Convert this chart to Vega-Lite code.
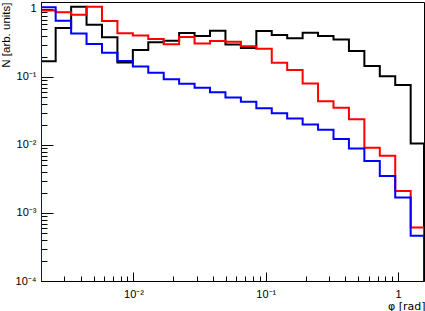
{
  "$schema": "https://vega.github.io/schema/vega-lite/v6.json",
  "autosize": {"type": "none"},
  "padding": {"left": 41, "top": 2, "right": 1, "bottom": 30},
  "width": 383,
  "height": 279,
  "background": "white",
  "view": {"stroke": "black", "strokeWidth": 1},
  "config": {
    "font": "Liberation Sans",
    "axis": {"labelFont": "Liberation Sans", "titleFont": "Liberation Sans", "labelColor": "black", "titleColor": "black", "titleFontWeight": "normal", "grid": false, "domainColor": "black", "tickColor": "black", "tickWidth": 1, "domainWidth": 1}
  },
  "data": {"values": [
    {"s": "A", "i": 0, "x": 0.002, "y": 0.0001},
    {"s": "A", "i": 1, "x": 0.002, "y": 0.170},
    {"s": "A", "i": 2, "x": 0.002582, "y": 0.526},
    {"s": "A", "i": 3, "x": 0.003379, "y": 1.081},
    {"s": "A", "i": 4, "x": 0.004419, "y": 0.588},
    {"s": "A", "i": 5, "x": 0.005781, "y": 0.384},
    {"s": "A", "i": 6, "x": 0.007562, "y": 0.164},
    {"s": "A", "i": 7, "x": 0.009892, "y": 0.249},
    {"s": "A", "i": 8, "x": 0.01294, "y": 0.324},
    {"s": "A", "i": 9, "x": 0.01693, "y": 0.342},
    {"s": "A", "i": 10, "x": 0.02214, "y": 0.444},
    {"s": "A", "i": 11, "x": 0.02897, "y": 0.401},
    {"s": "A", "i": 12, "x": 0.0379, "y": 0.480},
    {"s": "A", "i": 13, "x": 0.04958, "y": 0.301},
    {"s": "A", "i": 14, "x": 0.06486, "y": 0.267},
    {"s": "A", "i": 15, "x": 0.08486, "y": 0.475},
    {"s": "A", "i": 16, "x": 0.111, "y": 0.415},
    {"s": "A", "i": 17, "x": 0.1452, "y": 0.371},
    {"s": "A", "i": 18, "x": 0.19, "y": 0.448},
    {"s": "A", "i": 19, "x": 0.2485, "y": 0.401},
    {"s": "A", "i": 20, "x": 0.3251, "y": 0.356},
    {"s": "A", "i": 21, "x": 0.4253, "y": 0.241},
    {"s": "A", "i": 22, "x": 0.5564, "y": 0.145},
    {"s": "A", "i": 23, "x": 0.7278, "y": 0.1023},
    {"s": "A", "i": 24, "x": 0.9521, "y": 0.0762},
    {"s": "A", "i": 25, "x": 1.2455, "y": 0.01052},
    {"s": "A", "i": 26, "x": 1.5708, "y": 0.01052},
    {"s": "A", "i": 27, "x": 1.5708, "y": 0.0001},
    {"s": "B", "i": 0, "x": 0.002, "y": 0.0001},
    {"s": "B", "i": 1, "x": 0.002, "y": 0.950},
    {"s": "B", "i": 2, "x": 0.002582, "y": 0.894},
    {"s": "B", "i": 3, "x": 0.003379, "y": 0.824},
    {"s": "B", "i": 4, "x": 0.004419, "y": 1.081},
    {"s": "B", "i": 5, "x": 0.005781, "y": 0.666},
    {"s": "B", "i": 6, "x": 0.007562, "y": 0.439},
    {"s": "B", "i": 7, "x": 0.009892, "y": 0.408},
    {"s": "B", "i": 8, "x": 0.01294, "y": 0.362},
    {"s": "B", "i": 9, "x": 0.01693, "y": 0.303},
    {"s": "B", "i": 10, "x": 0.02214, "y": 0.388},
    {"s": "B", "i": 11, "x": 0.02897, "y": 0.311},
    {"s": "B", "i": 12, "x": 0.0379, "y": 0.338},
    {"s": "B", "i": 13, "x": 0.04958, "y": 0.331},
    {"s": "B", "i": 14, "x": 0.06486, "y": 0.283},
    {"s": "B", "i": 15, "x": 0.08486, "y": 0.261},
    {"s": "B", "i": 16, "x": 0.111, "y": 0.162},
    {"s": "B", "i": 17, "x": 0.1452, "y": 0.1268},
    {"s": "B", "i": 18, "x": 0.19, "y": 0.0802},
    {"s": "B", "i": 19, "x": 0.2485, "y": 0.0439},
    {"s": "B", "i": 20, "x": 0.3251, "y": 0.0354},
    {"s": "B", "i": 21, "x": 0.4253, "y": 0.0239},
    {"s": "B", "i": 22, "x": 0.5564, "y": 0.00912},
    {"s": "B", "i": 23, "x": 0.7278, "y": 0.00696},
    {"s": "B", "i": 24, "x": 0.9521, "y": 0.00211},
    {"s": "B", "i": 25, "x": 1.2455, "y": 0.000612},
    {"s": "B", "i": 26, "x": 1.5708, "y": 0.000612},
    {"s": "B", "i": 27, "x": 1.5708, "y": 0.0001},
    {"s": "C", "i": 0, "x": 0.002, "y": 0.0001},
    {"s": "C", "i": 1, "x": 0.002, "y": 1.059},
    {"s": "C", "i": 2, "x": 0.002582, "y": 0.673},
    {"s": "C", "i": 3, "x": 0.003379, "y": 0.436},
    {"s": "C", "i": 4, "x": 0.004419, "y": 0.306},
    {"s": "C", "i": 5, "x": 0.005781, "y": 0.228},
    {"s": "C", "i": 6, "x": 0.007562, "y": 0.172},
    {"s": "C", "i": 7, "x": 0.009892, "y": 0.1427},
    {"s": "C", "i": 8, "x": 0.01294, "y": 0.1157},
    {"s": "C", "i": 9, "x": 0.01693, "y": 0.0925},
    {"s": "C", "i": 10, "x": 0.02214, "y": 0.0797},
    {"s": "C", "i": 11, "x": 0.02897, "y": 0.0696},
    {"s": "C", "i": 12, "x": 0.0379, "y": 0.0596},
    {"s": "C", "i": 13, "x": 0.04958, "y": 0.0500},
    {"s": "C", "i": 14, "x": 0.06486, "y": 0.0432},
    {"s": "C", "i": 15, "x": 0.08486, "y": 0.0348},
    {"s": "C", "i": 16, "x": 0.111, "y": 0.0294},
    {"s": "C", "i": 17, "x": 0.1452, "y": 0.0245},
    {"s": "C", "i": 18, "x": 0.19, "y": 0.0201},
    {"s": "C", "i": 19, "x": 0.2485, "y": 0.0168},
    {"s": "C", "i": 20, "x": 0.3251, "y": 0.01225},
    {"s": "C", "i": 21, "x": 0.4253, "y": 0.00889},
    {"s": "C", "i": 22, "x": 0.5564, "y": 0.00582},
    {"s": "C", "i": 23, "x": 0.7278, "y": 0.0035},
    {"s": "C", "i": 24, "x": 0.9521, "y": 0.00169},
    {"s": "C", "i": 25, "x": 1.2455, "y": 0.000464},
    {"s": "C", "i": 26, "x": 1.5708, "y": 0.000464},
    {"s": "C", "i": 27, "x": 1.5708, "y": 0.0001}
  ]},
  "mark": {"type": "line", "interpolate": "step-after", "strokeWidth": 2, "clip": true},
  "encoding": {
    "x": {
      "field": "x", "type": "quantitative",
      "scale": {"type": "log", "domain": [0.002, 1.5708], "nice": false},
      "axis": {
        "values": [0.003, 0.004, 0.005, 0.006, 0.007, 0.008, 0.009, 0.01, 0.02, 0.03, 0.04, 0.05, 0.06, 0.07, 0.08, 0.09, 0.1, 0.2, 0.3, 0.4, 0.5, 0.6, 0.7, 0.8, 0.9, 1],
        "labelExpr": "abs(datum.value - 1) < 1e-9 ? '1' : abs(datum.value - 0.1) < 1e-9 ? '10⁻¹' : abs(datum.value - 0.01) < 1e-9 ? '10⁻²' : ''",
        "tickSize": {"condition": {"test": "abs(log(datum.value)/LN10 - round(log(datum.value)/LN10)) < 0.001", "value": -9}, "value": -5},
        "labelPadding": 16,
        "labelFontSize": 11,
        "labelOverlap": false,
        "labelFlush": false,
        "title": "φ [rad]",
        "titleFont": "DejaVu Sans",
        "titleFontSize": 11,
        "titleAnchor": "end",
        "titleAlign": "right",
        "titleBaseline": "bottom",
        "titleX": 384,
        "titleY": 30
      }
    },
    "y": {
      "field": "y", "type": "quantitative",
      "scale": {"type": "log", "domain": [0.0001, 1.267], "nice": false},
      "axis": {
        "values": [0.0001, 0.0002, 0.0003, 0.0004, 0.0005, 0.0006, 0.0007, 0.0008, 0.0009, 0.001, 0.002, 0.003, 0.004, 0.005, 0.006, 0.007, 0.008, 0.009, 0.01, 0.02, 0.03, 0.04, 0.05, 0.06, 0.07, 0.08, 0.09, 0.1, 0.2, 0.3, 0.4, 0.5, 0.6, 0.7, 0.8, 0.9, 1],
        "labelExpr": "abs(log(datum.value)/LN10 - round(log(datum.value)/LN10)) < 0.001 ? (round(log(datum.value)/LN10) == 0 ? '1' : '10' + ['⁻⁴','⁻³','⁻²','⁻¹'][round(log(datum.value)/LN10) + 4]) : ''",
        "tickSize": {"condition": {"test": "abs(log(datum.value)/LN10 - round(log(datum.value)/LN10)) < 0.001", "value": -12}, "value": -6},
        "labelPadding": 17,
        "labelFontSize": 11,
        "labelOverlap": false,
        "labelFlush": false,
        "title": "N [arb. units]",
        "titleFontSize": 11.5,
        "titleAnchor": "end",
        "titlePadding": 4
      }
    },
    "color": {"field": "s", "type": "nominal", "scale": {"domain": ["A", "B", "C"], "range": ["#000000", "#ff0000", "#0000ff"]}, "legend": null},
    "order": {"field": "i", "type": "quantitative"}
  }
}
